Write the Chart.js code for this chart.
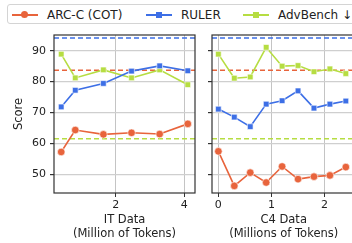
<!DOCTYPE html>
<html>
<head>
<meta charset="utf-8">
<script src="https://cdn.jsdelivr.net/npm/chart.js@4.4.0/dist/chart.umd.min.js"></script>
<style>
body { margin: 0; background: #fff; width: 352px; height: 243px; overflow: hidden; position: relative; font-family: "DejaVu Sans", sans-serif; }
#c1 { position: absolute; left: 0; top: 28px; }
#c2 { position: absolute; left: 200px; top: 28px; }
.legend { position: absolute; left: 7px; top: 4px; width: 360px; height: 20px; border: 1px solid #d4d4d4; border-radius: 3px; box-sizing: border-box; }
.item { position: absolute; top: 0; height: 20px; line-height: 20px; font-size: 12px; color: #222; }
.mk { position: absolute; top: 9px; width: 26px; height: 2px; }
.dot { position: absolute; left: 9px; top: -3px; width: 8px; height: 8px; }
.txt { position: absolute; white-space: nowrap; }
</style>
</head>
<body>
<div class="legend">
  <div class="item" style="left:4px">
    <div class="mk" style="background:#e8643c"><div class="dot" style="background:#e8643c;border-radius:50%;left:9px;top:-3px;width:7px;height:7px"></div></div>
    <div class="txt" style="left:35px">ARC-C (COT)</div>
  </div>
  <div class="item" style="left:138px">
    <div class="mk" style="background:#3d6fe6"><div class="dot" style="background:#3d6fe6;left:10px;top:-2px;width:6px;height:6px"></div></div>
    <div class="txt" style="left:35px">RULER</div>
  </div>
  <div class="item" style="left:235px">
    <div class="mk" style="background:#b6dd42"><div class="dot" style="background:#b6dd42;left:10px;top:-2px;width:6px;height:6px"></div></div>
    <div class="txt" style="left:35px">AdvBench ↓</div>
  </div>
</div>
<canvas id="c1" width="200" height="215"></canvas>
<canvas id="c2" width="160" height="215"></canvas>
<script>
// IT data panel (millions of tokens)
var itTokens = [0.41, 0.82, 1.64, 2.46, 3.28, 4.1];
var itArc = [57.2, 64.3, 62.9, 63.4, 63.0, 66.3];
var itRuler = [71.8, 77.2, 79.4, 83.4, 85.1, 83.5];
var itAdv = [88.9, 81.2, 83.8, 81.2, 83.8, 79.0];

// C4 data panel
var c4Tokens = [0, 0.3, 0.6, 0.9, 1.2, 1.5, 1.8, 2.1, 2.4];
var c4Arc = [57.4, 46.2, 50.5, 47.3, 52.5, 48.4, 49.2, 49.6, 52.3];
var c4Ruler = [71.1, 68.5, 65.4, 72.7, 73.8, 77.0, 71.4, 72.7, 73.7];
var c4Adv = [88.9, 81.1, 81.5, 91.1, 85.0, 85.2, 83.2, 84.1, 82.6];

// baselines (dashed)
var baseArc = 83.7;
var baseRuler = 94.1;
var baseAdv = 61.5;

var yTicks = [50, 60, 70, 80, 90];
var itTicks = [2, 4];
var c4Ticks = [0, 1, 2];

var RED = '#e8643c', BLUE = '#3d6fe6', GREEN = '#b6dd42';

function pts(xs, ys) {
	return xs.map(function(x, i) { return {x: x, y: ys[i]}; });
}

function hline(v, color, x0, x1) {
	return {
		data: [{x: x0, y: v}, {x: x1, y: v}],
		borderColor: color,
		borderWidth: 1.5,
		borderDash: [5, 3],
		pointRadius: 0,
		order: 5
	};
}

function series(xs, ys, color, style, r) {
	return {
		data: pts(xs, ys),
		borderColor: color,
		backgroundColor: color,
		borderWidth: 1.6,
		pointStyle: style,
		pointRadius: r,
		pointBorderColor: '#ffffff',
		pointBorderWidth: 0.6,
		order: 1
	};
}

var boxPlugin = {
	id: 'box',
	afterDraw: function(chart) {
		var a = chart.chartArea, c = chart.ctx;
		c.save();
		c.strokeStyle = '#333';
		c.lineWidth = 1.2;
		c.strokeRect(a.left, a.top, a.right - a.left, a.bottom - a.top);
		c.restore();
	}
};

function makeChart(id, xs, arc, ruler, adv, xmin, xmax, xticks, title, showY, yWidth, padRight) {
	var ctx = document.getElementById(id).getContext('2d');
	return new Chart(ctx, {
		type: 'line',
		data: {
			datasets: [
				series(xs, arc, RED, 'circle', 3.8),
				series(xs, ruler, BLUE, 'rect', 4),
				series(xs, adv, GREEN, 'rect', 4),
				hline(baseRuler, BLUE, xmin, xmax),
				hline(baseArc, RED, xmin, xmax),
				hline(baseAdv, GREEN, xmin, xmax)
			]
		},
		options: {
			responsive: false,
			animation: false,
			layout: { padding: { top: 7, right: padRight, left: 0, bottom: 0 } },
			plugins: { legend: { display: false }, tooltip: { enabled: false } },
			scales: {
				x: {
					type: 'linear',
					min: xmin,
					max: xmax,
					afterBuildTicks: function(s) { s.ticks = xticks.map(function(v) { return {value: v}; }); },
					afterFit: function(s) { s.height = 50; s.paddingLeft = 0; s.paddingRight = 0; },
					grid: { color: '#c4c4c4', lineWidth: 1, tickColor: '#333', tickLength: 4 },
					border: { display: false },
					ticks: { color: '#222', font: { family: 'DejaVu Sans', size: 11 }, padding: 2, maxRotation: 0 },
					title: { display: true, text: title, color: '#222', font: { family: 'DejaVu Sans', size: 11.5 }, padding: { top: 2, bottom: 2 } }
				},
				y: {
					min: 43.9,
					max: 95.1,
					afterBuildTicks: function(s) { s.ticks = yTicks.map(function(v) { return {value: v}; }); },
					afterFit: function(s) { s.width = yWidth; s.paddingTop = 0; s.paddingBottom = 0; },
					grid: { color: '#cfcfcf', lineWidth: 1.2, tickColor: '#333', tickLength: 4 },
					border: { display: false },
					ticks: { display: showY, color: '#222', font: { family: 'DejaVu Sans', size: 11 }, padding: 4 },
					title: { display: showY, text: 'Score', color: '#222', font: { family: 'DejaVu Sans', size: 11.5 }, padding: { top: 12, bottom: 0 } }
				}
			}
		},
		plugins: [boxPlugin]
	});
}

makeChart('c1', itTokens, itArc, itRuler, itAdv, 0.2, 4.31, itTicks, ['IT Data', '(Million of Tokens)'], true, 54, 5);
makeChart('c2', c4Tokens, c4Arc, c4Ruler, c4Adv, -0.12, 2.58, c4Ticks, ['C4 Data', '(Millions of Tokens)'], false, 12, 0);
</script>
</body>
</html>
